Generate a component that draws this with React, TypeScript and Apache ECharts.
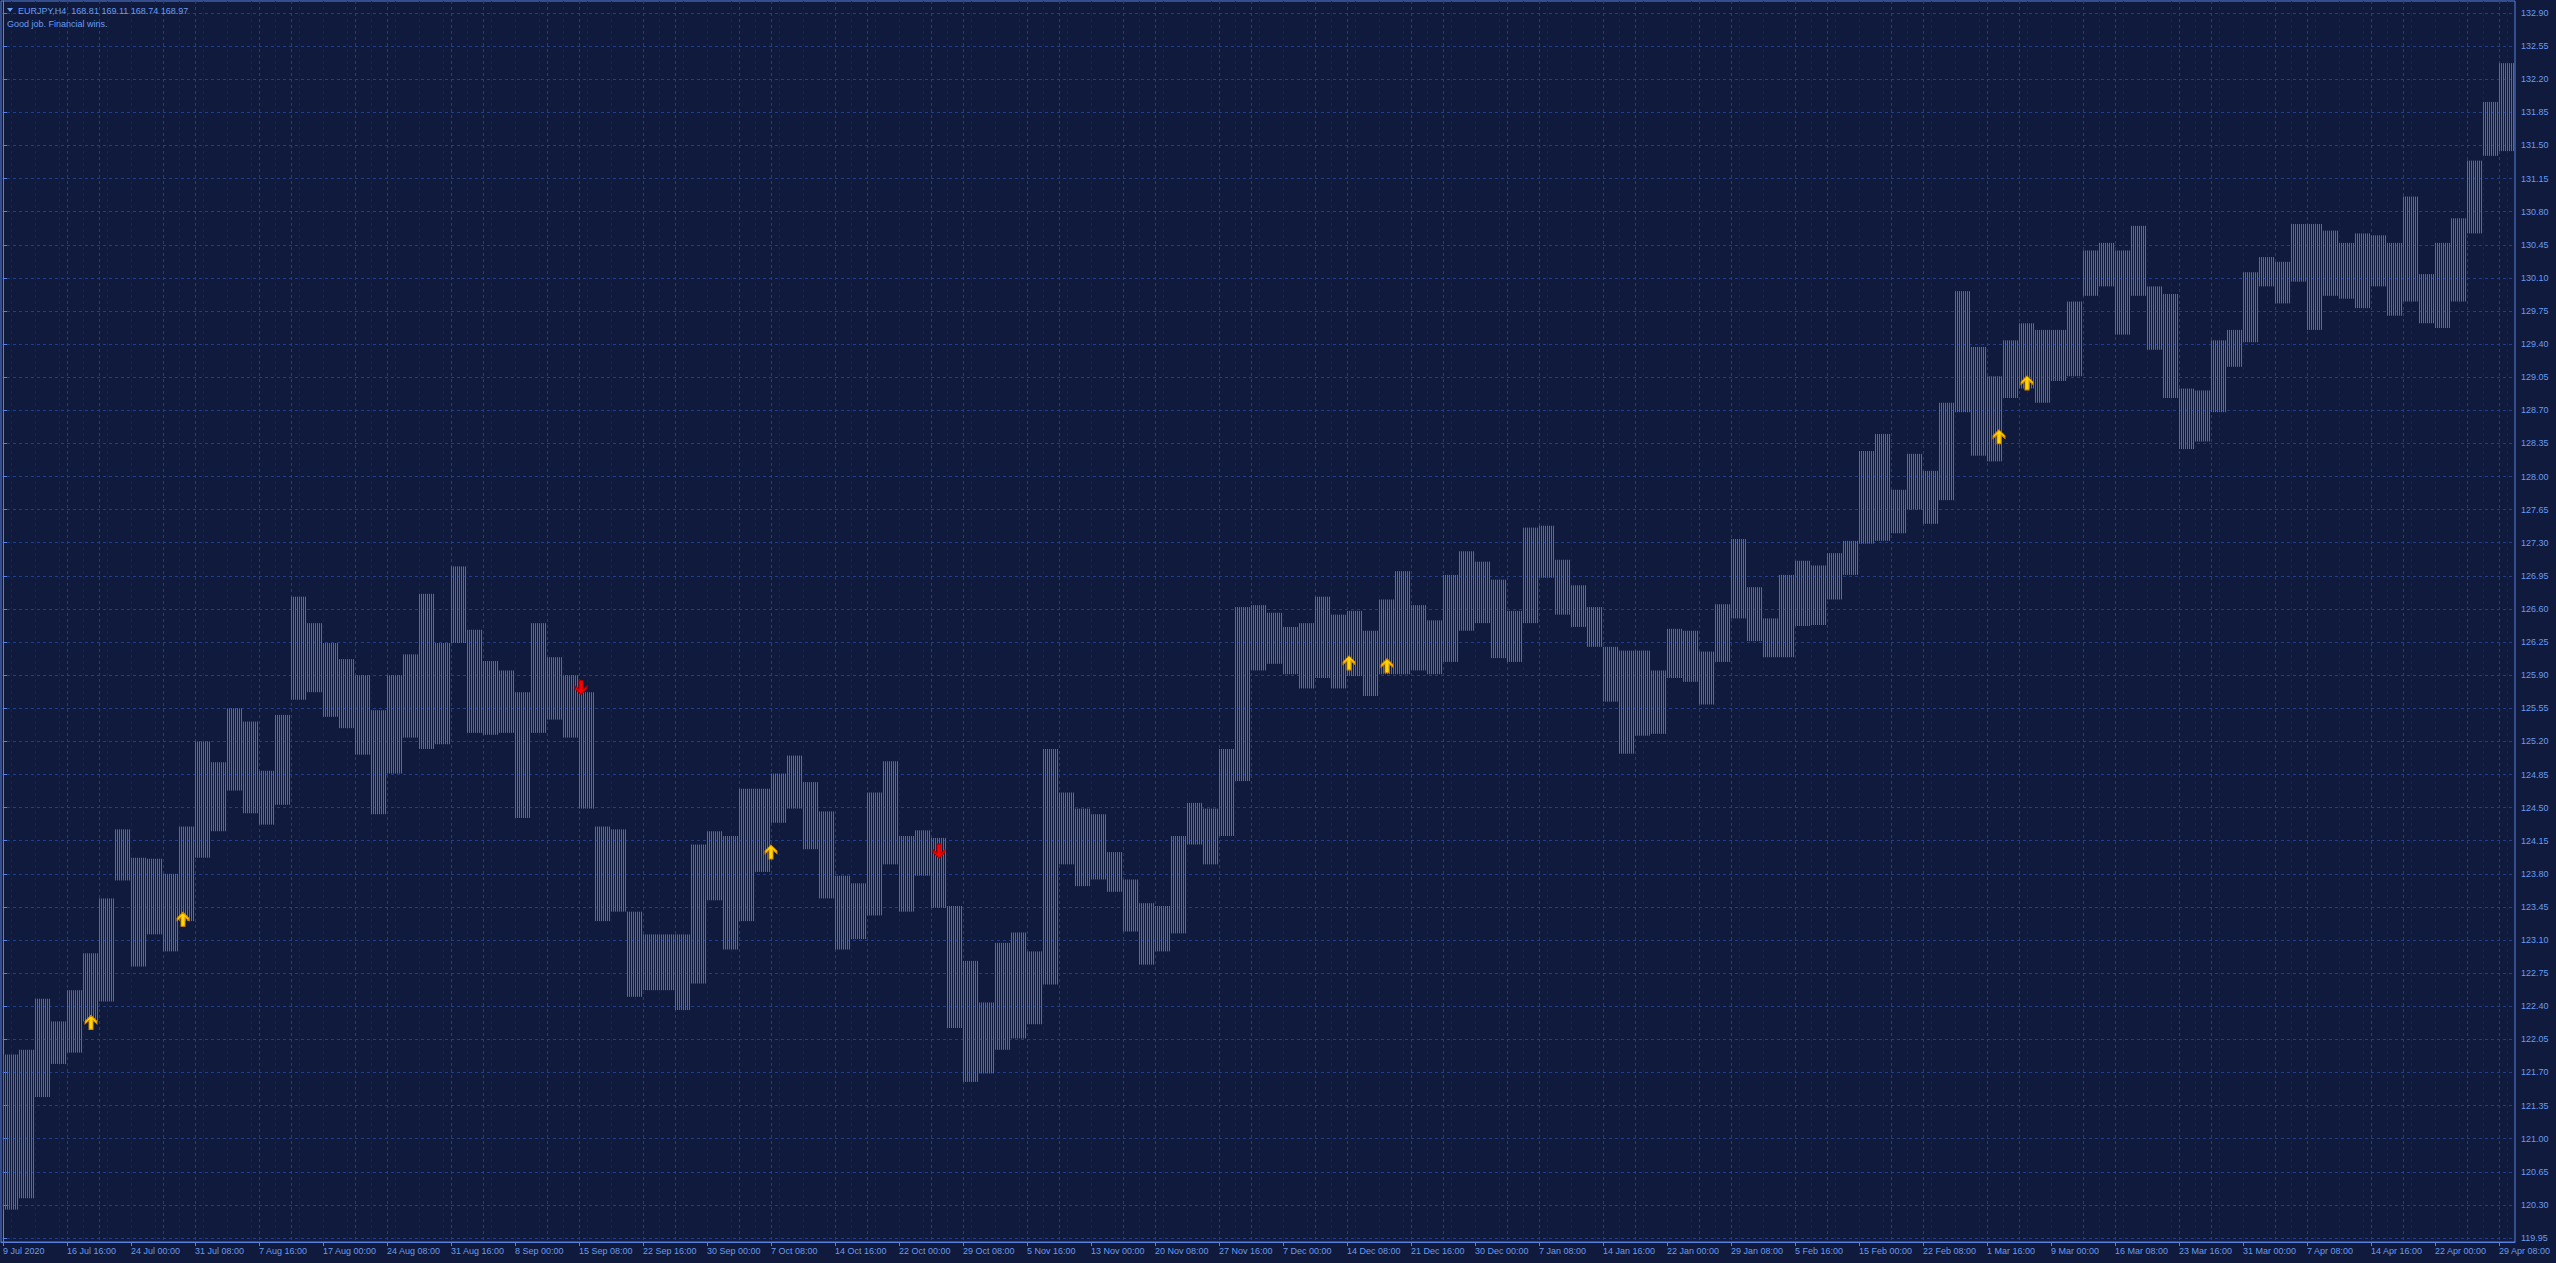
import React, { useEffect, useRef } from "react";
import * as echarts from "echarts";

// ---- data (EURJPY H4, each column = 8 consecutive H4 bars: [low, high]) ----
const BARS_PER_COLUMN = 8;
const TOTAL_BARS = 1256;

const COLUMN_HIGHS = [
  121.89, 121.94, 122.48, 122.24, 122.57, 122.96, 123.54, 124.27, 123.97, 123.96,
  123.80, 124.30, 125.20, 124.98, 125.55, 125.41, 124.89, 125.48, 126.73, 126.45,
  126.24, 126.07, 125.90, 125.53, 125.90, 126.12, 126.76, 126.24, 127.05, 126.38,
  126.05, 125.95, 125.72, 126.45, 126.09, 125.90, 125.72, 124.30, 124.27, 123.40,
  123.16, 123.16, 123.16, 124.11, 124.25, 124.20, 124.70, 124.70, 124.86, 125.05,
  124.77, 124.46, 123.78, 123.70, 124.66, 124.99, 124.20, 124.26, 124.18, 123.46,
  122.88, 122.44, 123.07, 123.18, 122.98, 125.12, 124.66, 124.49, 124.43, 124.03,
  123.74, 123.49, 123.46, 124.20, 124.55, 124.49, 125.12, 126.62, 126.64, 126.56,
  126.41, 126.45, 126.73, 126.54, 126.58, 126.37, 126.70, 127.00, 126.64, 126.48,
  126.96, 127.21, 127.10, 126.91, 126.58, 127.46, 127.48, 127.12, 126.85, 126.62,
  126.20, 126.16, 126.16, 125.95, 126.39, 126.37, 126.15, 126.65, 127.34, 126.83,
  126.50, 126.96, 127.11, 127.06, 127.19, 127.32, 128.27, 128.45, 127.86, 128.24,
  128.06, 128.78, 129.96, 129.37, 129.06, 129.44, 129.62, 129.55, 129.55, 129.85,
  130.39, 130.47, 130.39, 130.65, 130.01, 129.93, 128.93, 128.91, 129.44, 129.55,
  130.16, 130.32, 130.27, 130.67, 130.67, 130.60, 130.47, 130.57, 130.55, 130.47,
  130.96, 130.14, 130.47, 130.73, 131.34, 131.96, 132.37,
];

const COLUMN_LOWS = [
  120.25, 120.37, 121.44, 121.79, 121.91, 122.24, 122.45, 123.73, 122.82, 123.16,
  122.98, 123.30, 123.97, 124.25, 124.68, 124.44, 124.32, 124.53, 125.64, 125.72,
  125.46, 125.34, 125.06, 124.43, 124.86, 125.24, 125.12, 125.17, 126.24, 125.29,
  125.27, 125.29, 124.39, 125.29, 125.43, 125.24, 124.49, 123.30, 123.40, 122.50,
  122.57, 122.57, 122.36, 122.64, 123.52, 123.00, 123.30, 123.82, 124.34, 124.49,
  124.06, 123.54, 123.00, 123.11, 123.36, 123.90, 123.40, 123.78, 123.44, 122.17,
  121.60, 121.69, 121.94, 122.06, 122.21, 122.63, 123.90, 123.67, 123.74, 123.61,
  123.19, 122.84, 122.98, 123.17, 124.11, 123.90, 124.20, 124.78, 125.95, 126.02,
  125.91, 125.76, 125.87, 125.76, 125.89, 125.68, 125.91, 125.91, 125.95, 125.91,
  126.04, 126.37, 126.45, 126.08, 126.04, 126.45, 126.93, 126.54, 126.41, 126.20,
  125.62, 125.07, 125.26, 125.28, 125.87, 125.83, 125.59, 126.04, 126.50, 126.26,
  126.09, 126.09, 126.42, 126.43, 126.70, 126.96, 127.29, 127.32, 127.40, 127.65,
  127.50, 127.75, 128.68, 128.22, 128.16, 128.83, 128.93, 128.78, 129.01, 129.06,
  129.91, 130.01, 129.50, 129.91, 129.34, 128.83, 128.29, 128.37, 128.68, 129.16,
  129.42, 130.01, 129.83, 130.06, 129.55, 129.91, 129.88, 129.78, 130.01, 129.70,
  129.85, 129.62, 129.57, 129.85, 130.57, 131.39, 131.44,
];

// Signal arrows: [bar index, price]
const UP_ARROWS = [
  [44, 122.23], [90, 123.32], [384, 124.03], [673, 126.03], [692, 126.0],
  [998, 128.42], [1012, 128.99], [1664, 129.98],
];
const DOWN_ARROWS = [
  [289, 125.77], [468, 124.04],
];

// Time-axis labels, one every 32 H4 bars
const LABEL_STEP = 32;
const X_LABELS = [
  "9 Jul 2020", "16 Jul 16:00", "24 Jul 00:00", "31 Jul 08:00", "7 Aug 16:00",
  "17 Aug 00:00", "24 Aug 08:00", "31 Aug 16:00", "8 Sep 00:00", "15 Sep 08:00",
  "22 Sep 16:00", "30 Sep 00:00", "7 Oct 08:00", "14 Oct 16:00", "22 Oct 00:00",
  "29 Oct 08:00", "5 Nov 16:00", "13 Nov 00:00", "20 Nov 08:00", "27 Nov 16:00",
  "7 Dec 00:00", "14 Dec 08:00", "21 Dec 16:00", "30 Dec 00:00", "7 Jan 08:00",
  "14 Jan 16:00", "22 Jan 00:00", "29 Jan 08:00", "5 Feb 16:00", "15 Feb 00:00",
  "22 Feb 08:00", "1 Mar 16:00", "9 Mar 00:00", "16 Mar 08:00", "23 Mar 16:00",
  "31 Mar 00:00", "7 Apr 08:00", "14 Apr 16:00", "22 Apr 00:00", "29 Apr 08:00",
];

const Y_TICKS = [
  119.95, 120.3, 120.65, 121.0, 121.35, 121.7, 122.05, 122.4, 122.75, 123.1,
  123.45, 123.8, 124.15, 124.5, 124.85, 125.2, 125.55, 125.9, 126.25, 126.6,
  126.95, 127.3, 127.65, 128.0, 128.35, 128.7, 129.05, 129.4, 129.75, 130.1,
  130.45, 130.8, 131.15, 131.5, 131.85, 132.2, 132.55, 132.9,
];

const TITLE = "EURJPY,H4  168.81 169.11 168.74 168.97";
const SUBTITLE = "Good job. Financial wins.";

// ---- styles ----
const BG = "#0f1a3c";
const BAR_COLOR = "#4169e1";
const FG = "#6a9cf2";
const GRID_BLUE = "#1f3f8c";
const GRID_PURPLE = "#4b0082";
const FONT = "Liberation Sans";

const UP_PATH = "path://M6,0 L12,6 L12,8.5 L8,5 L8,14 L4,14 L4,5 L0,8.5 L0,6 Z";
const DOWN_PATH = "path://M6,14 L12,8 L12,5.5 L8,9 L8,0 L4,0 L4,9 L0,5.5 L0,8 Z";

export default function App() {
  const ref = useRef<HTMLDivElement>(null);

  useEffect(() => {
    if (!ref.current) return;
    const chart = echarts.init(ref.current, undefined, { renderer: "svg" });

    const labelValues = X_LABELS.map((_, i) => i * LABEL_STEP);
    const midValues: number[] = [];
    for (let v = LABEL_STEP / 2; v < TOTAL_BARS; v += LABEL_STEP) midValues.push(v);
    const purpleValues: number[] = [];
    for (let v = 4; v < TOTAL_BARS; v += 12) purpleValues.push(v);

    const columns = COLUMN_HIGHS.map((h, k) => [k, COLUMN_LOWS[k], h]);

    const xBase = {
      type: "value" as const,
      min: -1,
      max: TOTAL_BARS,
      gridIndex: 0,
    };

    const option: any = {
      animation: false,
      backgroundColor: BG,
      grid: {
        left: 1,
        right: 41,
        top: 1,
        bottom: 21,
        show: true,
        borderColor: "#5a80dc",
        borderWidth: 1,
        backgroundColor: "transparent",
      },
      xAxis: [
        {
          ...xBase,
          position: "bottom",
          axisLine: { show: true, lineStyle: { color: "#5a80dc", width: 1 } },
          axisTick: {
            show: true,
            length: 4,
            customValues: labelValues,
            lineStyle: { color: "#5a80dc" },
          },
          axisLabel: {
            show: true,
            customValues: labelValues,
            formatter: (v: number) => X_LABELS[Math.round(v / LABEL_STEP)] ?? "",
            align: "left",
            margin: 4,
            color: FG,
            fontFamily: FONT,
            fontSize: 9,
            hideOverlap: false,
          },
          splitLine: {
            show: true,
            lineStyle: { color: GRID_BLUE, type: [3, 3], width: 1 },
          },
        },
        {
          ...xBase,
          position: "bottom",
          axisLine: { show: false },
          axisTick: { show: false, customValues: midValues },
          axisLabel: { show: false },
          splitLine: {
            show: true,
            lineStyle: { color: GRID_BLUE, type: [3, 3], width: 1 },
          },
        },
        {
          ...xBase,
          position: "bottom",
          axisLine: { show: false },
          axisTick: { show: false, customValues: purpleValues },
          axisLabel: { show: false },
          splitLine: {
            show: true,
            lineStyle: { color: GRID_PURPLE, type: [3, 3], width: 1 },
          },
        },
      ],
      yAxis: {
        type: "value",
        position: "right",
        min: 119.908,
        max: 133.027,
        axisLine: { show: true, lineStyle: { color: "#5a80dc", width: 1 } },
        axisTick: {
          show: true,
          length: 4,
          customValues: Y_TICKS,
          lineStyle: { color: "#5a80dc" },
        },
        axisLabel: {
          show: true,
          customValues: Y_TICKS,
          formatter: (v: number) => v.toFixed(2),
          margin: 6,
          color: FG,
          fontFamily: FONT,
          fontSize: 9,
        },
        splitLine: {
          show: true,
          lineStyle: { color: GRID_BLUE, type: [3, 3], width: 1 },
        },
      },
      series: [
        {
          type: "custom",
          xAxisIndex: 0,
          yAxisIndex: 0,
          clip: true,
          data: columns,
          encode: { x: 0, y: [1, 2] },
          renderItem: (params: any, api: any) => {
            const k = api.value(0);
            const lo = api.value(1);
            const hi = api.value(2);
            const children: any[] = [];
            for (let i = 0; i < BARS_PER_COLUMN; i++) {
              const b = k * BARS_PER_COLUMN + i;
              if (b >= TOTAL_BARS) break;
              const pLo = api.coord([b, lo]);
              const pHi = api.coord([b, hi]);
              const x = Math.round(pLo[0]) + 0.5;
              children.push({
                type: "line",
                shape: { x1: x, y1: pLo[1], x2: x, y2: pHi[1] },
                style: { stroke: BAR_COLOR, lineWidth: 1 },
              });
            }
            return { type: "group", children };
          },
          z: 2,
        },
        {
          type: "scatter",
          xAxisIndex: 0,
          data: UP_ARROWS,
          symbol: UP_PATH,
          symbolSize: [12, 14],
          itemStyle: { color: "#ffd700", borderColor: "#d98c00", borderWidth: 1, opacity: 1 },
          z: 5,
          silent: true,
        },
        {
          type: "scatter",
          xAxisIndex: 0,
          data: DOWN_ARROWS,
          symbol: DOWN_PATH,
          symbolSize: [12, 14],
          itemStyle: { color: "#ff0000", borderColor: "#b00000", borderWidth: 1, opacity: 1 },
          z: 5,
          silent: true,
        },
      ],
      graphic: [
        {
          type: "polygon",
          shape: { points: [[7, 8], [13, 8], [10, 12]] },
          style: { fill: FG },
          z: 10,
        },
        {
          type: "text",
          x: 18,
          y: 10.5,
          style: {
            text: TITLE,
            fill: FG,
            font: `9px "${FONT}"`,
            verticalAlign: "middle",
          },
          z: 10,
        },
        {
          type: "text",
          x: 7,
          y: 24,
          style: {
            text: SUBTITLE,
            fill: FG,
            font: `9px "${FONT}"`,
            verticalAlign: "middle",
          },
          z: 10,
        },
      ],
    };

    chart.setOption(option);
    return () => chart.dispose();
  }, []);

  return (
    <div
      ref={ref}
      style={{ position: "fixed", left: 0, top: 0, width: 2556, height: 1263 }}
    />
  );
}
